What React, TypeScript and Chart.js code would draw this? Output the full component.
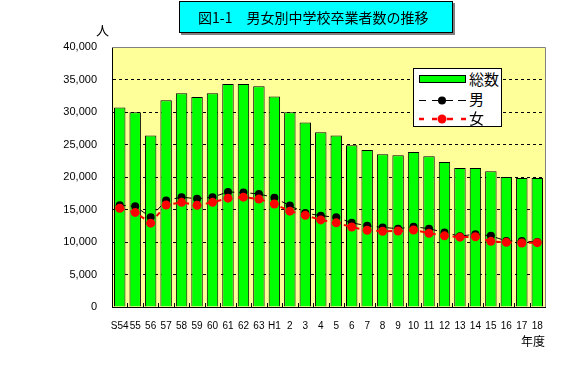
import React, { useEffect, useRef } from 'react';
import { Chart, registerables } from 'chart.js';
Chart.register(...registerables);

const categories = ['S54', '55', '56', '57', '58', '59', '60', '61', '62', '63', 'H1', '2', '3', '4', '5', '6', '7', '8', '9', '10', '11', '12', '13', '14', '15', '16', '17', '18'];
const totalValues = [30700, 29950, 26400, 31800, 32900, 32300, 32900, 34300, 34300, 33950, 32400, 29950, 28400, 26900, 26400, 24900, 24150, 23500, 23350, 23850, 23200, 22300, 21400, 21400, 20900, 20000, 19850, 19850];
const maleValues = [15650, 15500, 13800, 16400, 16900, 16650, 16900, 17700, 17600, 17400, 16800, 15600, 14450, 14050, 13800, 12950, 12500, 12250, 12050, 12350, 12050, 11450, 10900, 11200, 10950, 10150, 10150, 10000];
const femaleValues = [15200, 14550, 12900, 15700, 16100, 15650, 16100, 16750, 16900, 16600, 15850, 14750, 14100, 13400, 12950, 12300, 11800, 11650, 11700, 11850, 11350, 10950, 10750, 10800, 10100, 9950, 9850, 9900];
const yMin = 0;
const yMax = 40000;
const yStep = 5000;

const titleText = '図1-1　男女別中学校卒業者数の推移';
const legendLabels = ['総数', '男', '女'];

const plotBg = {
  id: 'plotBg',
  beforeDraw(chart: any) {
    const { ctx, chartArea: a } = chart;
    ctx.save();
    ctx.fillStyle = '#FFFF99';
    ctx.fillRect(a.left, a.top, a.right - a.left, a.bottom - a.top);
    ctx.restore();
  },
};

const frame = {
  id: 'frame',
  beforeDatasetsDraw(chart: any) {
    const { ctx, chartArea: a, scales } = chart;
    ctx.save();
    ctx.strokeStyle = '#808080';
    ctx.lineWidth = 1;
    ctx.beginPath();
    ctx.moveTo(a.left, Math.round(a.top) + 0.5);
    ctx.lineTo(Math.round(a.right) + 0.5, Math.round(a.top) + 0.5);
    ctx.lineTo(Math.round(a.right) + 0.5, a.bottom);
    ctx.stroke();
    ctx.strokeStyle = '#000';
    const xs = scales.x;
    ctx.beginPath();
    for (let i = 0; i < categories.length - 1; i++) {
      const x = Math.round((xs.getPixelForValue(i) + xs.getPixelForValue(i + 1)) / 2) + 0.5;
      ctx.moveTo(x, a.bottom - 4);
      ctx.lineTo(x, a.bottom);
    }
    ctx.stroke();
    ctx.restore();
  },
};

export default function App() {
  const ref = useRef<HTMLCanvasElement>(null);
  useEffect(() => {
    if (!ref.current) return;
    const chart = new Chart(ref.current, {
      type: 'bar',
      data: {
        labels: categories,
        datasets: [
          {
            type: 'line',
            label: legendLabels[2],
            data: femaleValues,
            borderColor: '#FF0000',
            borderWidth: 2,
            borderDash: [5, 6],
            pointRadius: 4.5,
            pointBackgroundColor: '#FF0000',
            pointBorderColor: '#FF0000',
            pointBorderWidth: 0,
            fill: false,
            order: 1,
          } as any,
          {
            type: 'line',
            label: legendLabels[1],
            data: maleValues,
            borderColor: '#000000',
            borderWidth: 1,
            borderDash: [6, 5],
            pointRadius: 4,
            pointBackgroundColor: '#000000',
            pointBorderColor: '#000000',
            pointBorderWidth: 0,
            fill: false,
            order: 2,
          } as any,
          {
            type: 'bar',
            label: legendLabels[0],
            data: totalValues,
            backgroundColor: '#00FF00',
            borderColor: '#000000',
            borderWidth: 1,
            barPercentage: 0.74,
            categoryPercentage: 1,
            order: 3,
          } as any,
        ],
      },
      options: {
        animation: false,
        responsive: false,
        devicePixelRatio: 1,
        layout: { padding: { top: 47, right: 35, left: 0, bottom: 0 } },
        plugins: {
          legend: { display: false },
          tooltip: { enabled: false },
          title: { display: false },
        },
        scales: {
          x: {
            grid: { display: false },
            border: { display: true, color: '#000', width: 1 },
            ticks: {
              autoSkip: false,
              maxRotation: 0,
              minRotation: 0,
              color: '#000',
              padding: 5,
              font: { family: '"Liberation Sans", Arial, sans-serif', size: 10 },
            },
            afterFit(s: any) {
              s.height = 59;
            },
          },
          y: {
            min: yMin,
            max: yMax,
            ticks: {
              stepSize: yStep,
              color: '#000',
              padding: 15,
              font: { family: '"Liberation Sans", Arial, sans-serif', size: 11 },
              callback: (v: any) => Number(v).toLocaleString('en-US'),
            },
            grid: {
              drawTicks: false,
              lineWidth: 1,
              color: (c: any) => (c.tick && (c.tick.value === yMin || c.tick.value === yMax) ? 'rgba(0,0,0,0)' : '#000'),
            },
            border: { display: true, color: '#000', width: 1, dash: [3, 3] },
            afterFit(s: any) {
              s.width = 112;
            },
          },
        },
      } as any,
      plugins: [plotBg, frame],
    });
    return () => chart.destroy();
  }, []);

  const cjk = '"Noto Sans CJK JP", "Noto Sans", sans-serif';
  return (
    <div style={{ position: 'fixed', left: 0, top: 0, width: 580, height: 366, background: '#fff', overflow: 'hidden' }}>
      <canvas ref={ref} width={580} height={366} style={{ position: 'absolute', left: 0, top: 0, width: 580, height: 366 }} />
      <div
        style={{
          position: 'absolute', left: 179, top: 1, width: 274, height: 32, boxSizing: 'border-box',
          background: '#00FFFF', border: '1px solid #000', boxShadow: '2px 2px 0 #808080',
          fontFamily: cjk, fontSize: 14, lineHeight: '30px', paddingLeft: 18, whiteSpace: 'nowrap', color: '#000',
        }}
      >
        {titleText}
      </div>
      <div style={{ position: 'absolute', left: 96, top: 23, fontFamily: cjk, fontSize: 13, lineHeight: 1, color: '#000' }}>人</div>
      <div style={{ position: 'absolute', left: 521, top: 335, fontFamily: cjk, fontSize: 12, lineHeight: 1, color: '#000' }}>年度</div>
      <div
        style={{
          position: 'absolute', left: 413, top: 68, width: 89, height: 59, boxSizing: 'border-box',
          background: '#fff', border: '1px solid #000', fontFamily: cjk, fontSize: 15, color: '#000',
        }}
      >
        <div style={{ position: 'absolute', left: 5, top: 6, width: 47, height: 8, boxSizing: 'border-box', background: '#00FF00', border: '1px solid #000' }} />
        <div style={{ position: 'absolute', left: 55, top: 2, lineHeight: 1 }}>{legendLabels[0]}</div>
        <svg style={{ position: 'absolute', left: 5, top: 25 }} width={48} height={12}>
          <g stroke="#000" strokeWidth={1}>
            <line x1={0} y1={6.5} x2={7} y2={6.5} />
            <line x1={13} y1={6.5} x2={20} y2={6.5} />
            <line x1={26} y1={6.5} x2={34} y2={6.5} />
            <line x1={39} y1={6.5} x2={47} y2={6.5} />
          </g>
          <circle cx={23} cy={6.5} r={4} fill="#000" />
        </svg>
        <div style={{ position: 'absolute', left: 55, top: 22, lineHeight: 1 }}>{legendLabels[1]}</div>
        <svg style={{ position: 'absolute', left: 5, top: 44 }} width={48} height={12}>
          <g stroke="#FF0000" strokeWidth={2.5}>
            <line x1={0} y1={6} x2={5} y2={6} />
            <line x1={13} y1={6} x2={18} y2={6} />
            <line x1={28} y1={6} x2={34} y2={6} />
            <line x1={42} y1={6} x2={47} y2={6} />
          </g>
          <circle cx={23} cy={6} r={4.5} fill="#FF0000" />
        </svg>
        <div style={{ position: 'absolute', left: 55, top: 41, lineHeight: 1 }}>{legendLabels[2]}</div>
      </div>
    </div>
  );
}
